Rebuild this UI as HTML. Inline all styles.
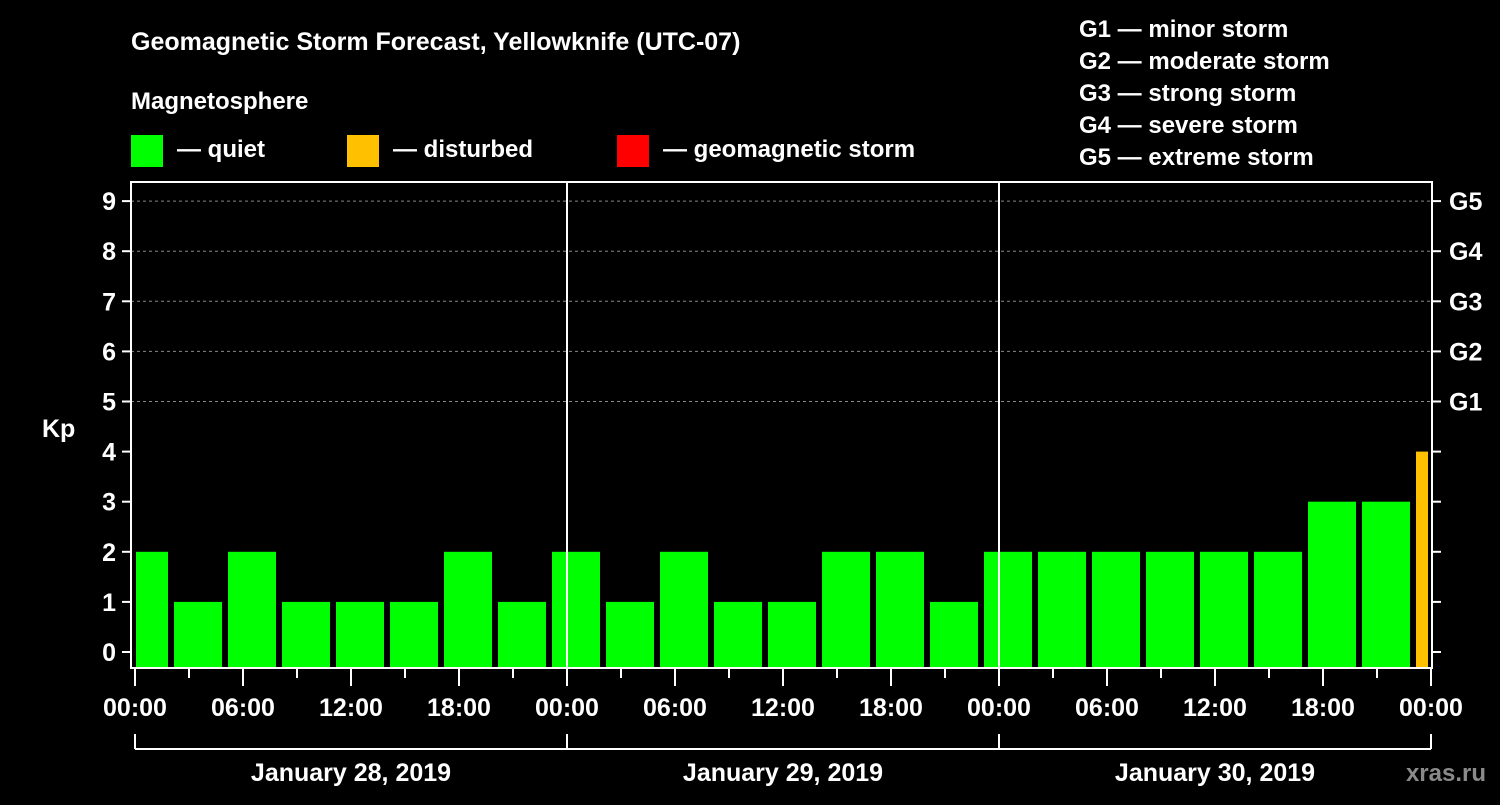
<!DOCTYPE html>
<html><head><meta charset="utf-8"><style>
html,body{margin:0;background:#000;}
svg text{font-family:"Liberation Sans",Arial,sans-serif;font-weight:bold;fill:#fff;}
</style></head><body>
<svg id="c" width="1500" height="800" xmlns="http://www.w3.org/2000/svg">
<rect width="1500" height="800" fill="#000"/>
<text x="131" y="50" font-size="25">Geomagnetic Storm Forecast, Yellowknife (UTC-07)</text>
<text x="131" y="109" font-size="24">Magnetosphere</text>
<rect x="131" y="135" width="32" height="32" fill="#00ff00"/>
<text x="177" y="157" font-size="24">— quiet</text>
<rect x="347" y="135" width="32" height="32" fill="#ffc000"/>
<text x="393" y="157" font-size="24">— disturbed</text>
<rect x="617" y="135" width="32" height="32" fill="#ff0000"/>
<text x="663" y="157" font-size="24">— geomagnetic storm</text>
<g font-size="24">
<text x="1079" y="37">G1 — minor storm</text>
<text x="1079" y="69">G2 — moderate storm</text>
<text x="1079" y="101">G3 — strong storm</text>
<text x="1079" y="133">G4 — severe storm</text>
<text x="1079" y="165">G5 — extreme storm</text>
</g>
<text x="42" y="437" font-size="25">Kp</text>
<text x="1486" y="781" font-size="24" fill="#888" style="fill:#8a8a8a" text-anchor="end">xras.ru</text>
<g id="grid"></g><g id="bars"></g><g id="axes"></g>
</svg>
<script>
const kpValues=[2,1,2,1,1,1,2,1,2,1,2,1,1,2,2,1,2,2,2,2,2,2,3,3,4];
const yTicks=[0,1,2,3,4,5,6,7,8,9];
const gLabels=["G1","G2","G3","G4","G5"];
const xTickLabels=["00:00","06:00","12:00","18:00","00:00","06:00","12:00","18:00","00:00","06:00","12:00","18:00","00:00"];
const dayLabels=["January 28, 2019","January 29, 2019","January 30, 2019"];
const slotStartHour=-1, slotHours=3, totalHours=72;
const X0=135,PX_H=18,Y0=652,PX_K=50.1,LEFT=131,RIGHT=1432,TOP=182,BOT=668;
const xs=h=>X0+h*PX_H, ys=k=>Y0-k*PX_K;
const NS="http://www.w3.org/2000/svg";
function mk(tag,attrs,parent,txt){const e=document.createElementNS(NS,tag);for(const k in attrs)e.setAttribute(k,attrs[k]);if(txt!==undefined)e.textContent=txt;document.getElementById(parent).appendChild(e);return e;}
// grid
for(let k=5;k<=9;k++){const l=mk('line',{x1:LEFT,x2:RIGHT,y1:ys(k),y2:ys(k),stroke:'#888','stroke-dasharray':'3,3','stroke-width':1},'grid');

}
// bars
kpValues.forEach((v,i)=>{
 let x1=xs(slotStartHour+i*slotHours)+3, x2=xs(slotStartHour+(i+1)*slotHours)-3;
 x1=Math.max(x1,X0+1); x2=Math.min(x2,RIGHT-4);
 const col=v>=5?'#ff0000':(v>=4?'#ffc000':'#00ff00');
 const r=mk('rect',{x:x1,y:ys(v),width:x2-x1,height:BOT-ys(v),fill:col},'bars');
 
 
});
// axes frame
const fr=mk('rect',{x:LEFT,y:TOP,width:RIGHT-LEFT,height:BOT-TOP,fill:'none',stroke:'#fff','stroke-width':2},'axes');


// day separators
for(let d=1;d<3;d++){const l=mk('line',{x1:xs(d*24),x2:xs(d*24),y1:TOP,y2:BOT,stroke:'#fff','stroke-width':2},'axes');

}
// y ticks
yTicks.forEach(k=>{
 mk('line',{x1:122,x2:LEFT,y1:ys(k),y2:ys(k),stroke:'#fff','stroke-width':2},'axes');
 mk('line',{x1:RIGHT,x2:1441,y1:ys(k),y2:ys(k),stroke:'#fff','stroke-width':2},'axes');
 const t=mk('text',{x:116,y:ys(k)+9,'font-size':25,'text-anchor':'end'},'axes',k);
 
 
});
gLabels.forEach((g,i)=>{const t=mk('text',{x:1449,y:ys(5+i)+9,'font-size':25},'axes',g);
 
 });
// x ticks
for(let h=0;h<=totalHours;h+=3){const major=h%6===0;
 mk('line',{x1:xs(h),x2:xs(h),y1:BOT,y2:major?686:678,stroke:'#fff','stroke-width':2},'axes');}
xTickLabels.forEach((s,i)=>{const t=mk('text',{x:xs(i*6),y:716,'font-size':25,'text-anchor':'middle'},'axes',s);
 
 });
// day brackets
mk('line',{x1:xs(0),x2:xs(72),y1:749,y2:749,stroke:'#fff','stroke-width':2},'axes');
for(let d=0;d<=3;d++)mk('line',{x1:xs(d*24),x2:xs(d*24),y1:734,y2:749,stroke:'#fff','stroke-width':2},'axes');
dayLabels.forEach((s,i)=>{const t=mk('text',{x:xs(i*24+12),y:781,'font-size':25,'text-anchor':'middle'},'axes',s);
 
 });
</script>
</body></html>
